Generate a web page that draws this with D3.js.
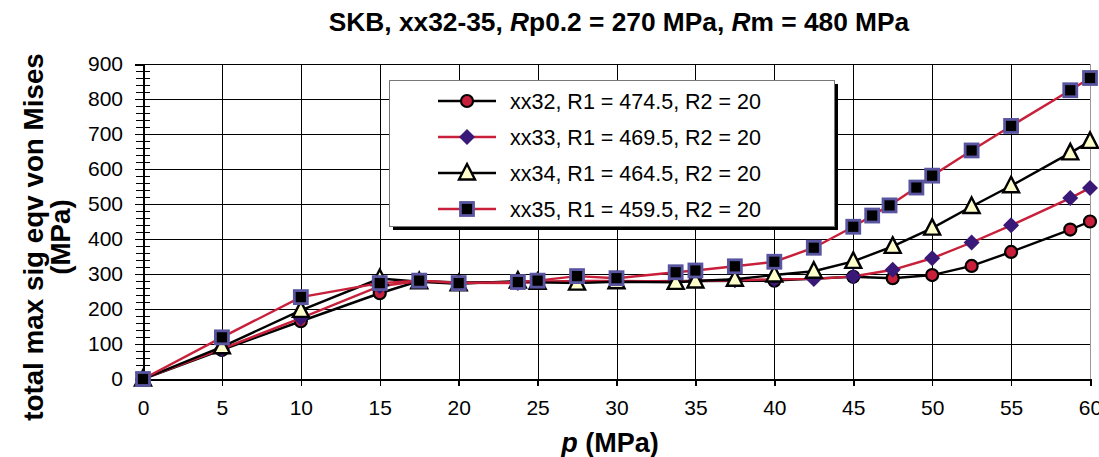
<!DOCTYPE html>
<html><head><meta charset="utf-8">
<script src="https://cdn.jsdelivr.net/npm/d3@7"></script>
<style>
body{margin:0;background:#fff;}
text{font-family:"Liberation Sans",Arial,sans-serif;}
</style></head>
<body><svg id="c" width="1099" height="457"></svg>
<script>
const title = "SKB, xx32-35, ";
const xTicks = [0,5,10,15,20,25,30,35,40,45,50,55,60];
const yTicks = [0,100,200,300,400,500,600,700,800,900];
const seriesNames = ["xx32, R1 = 474.5, R2 = 20","xx33, R1 = 469.5, R2 = 20","xx34, R1 = 464.5, R2 = 20","xx35, R1 = 459.5, R2 = 20"];

const xx32_x = [0,5,10,15,17.5,20,25,30,35,40,45,47.5,50,52.5,55,58.75,60];
const xx32_y = [0,83,165,245,280,276,277,279,280,281,292,288,297,323,363,427,450];
const xx33_x = [0,5,10,15,17.5,20,23.75,25,27.5,30,33.75,35,37.5,40,42.5,45,47.5,50,52.5,55,58.75,60];
const xx33_y = [0,86,174,265,280,275,274,278,280,280,279,280,282,285,286,293,312,345,390,439,517,546];
const xx34_x = [0,5,10,15,17.5,20,23.75,25,27.5,30,33.75,35,37.5,40,42.5,45,47.5,50,52.5,55,58.75,60];
const xx34_y = [0,92,196,287,278,272,280,276,274,278,276,280,285,297,308,336,379,431,493,552,646,679];
const xx35_x = [0,5,10,15,17.5,20,23.75,25,27.5,30,33.75,35,37.5,40,42.5,45,46.2,47.3,49,50,52.5,55,58.75,60];
const xx35_y = [0,119,234,274,281,274,277,281,294,288,305,310,322,335,375,435,467,496,547,581,653,723,825,860];

const RED = "#c8203a", PURPLE = "#3a1878", CREAM = "#ffffcc", SLATE = "#5a55a0";
const styles = [
  {line:"#000", marker:"circle"},
  {line:RED, marker:"diamond"},
  {line:"#000", marker:"triangle"},
  {line:RED, marker:"square"}
];
const series = [[xx32_x,xx32_y],[xx33_x,xx33_y],[xx34_x,xx34_y],[xx35_x,xx35_y]];

const svg = d3.select("#c");
const L=143,R=1090,T=64,B=379;
const x = d3.scaleLinear().domain([0,60]).range([L,R]);
const y = d3.scaleLinear().domain([0,900]).range([B,T]);

// grid
const g = svg.append("g").attr("shape-rendering","crispEdges");
g.selectAll(".hg").data(yTicks.slice(1)).join("line")
 .attr("x1",L).attr("x2",R).attr("y1",d=>Math.round(y(d))+0.5).attr("y2",d=>Math.round(y(d))+0.5)
 .attr("stroke","#000").attr("stroke-width",1.5);
g.selectAll(".vg").data(xTicks.slice(1)).join("line")
 .attr("x1",d=>Math.round(x(d))+0.5).attr("x2",d=>Math.round(x(d))+0.5).attr("y1",T).attr("y2",B)
 .attr("stroke",d=>d===60?"#999":"#000").attr("stroke-width",1.5);

// axes
const yAxis = d3.axisLeft(y).tickValues(yTicks).tickSize(8).tickPadding(12);
const ya = svg.append("g").attr("transform",`translate(${L},0)`).call(yAxis);
ya.attr("shape-rendering","crispEdges");
ya.select(".domain").attr("stroke","#000").attr("stroke-width",2);
ya.selectAll(".tick line").attr("stroke-width",1.5);
ya.selectAll("text").attr("font-size",21).attr("fill","#000").attr("shape-rendering","auto");
// minor ticks
const minors = d3.range(0,901,20).filter(v=>v%100!==0);
svg.append("g").attr("shape-rendering","crispEdges").selectAll("line").data(minors).join("line")
 .attr("x1",L-7).attr("x2",L+7).attr("y1",d=>Math.round(y(d))+0.5).attr("y2",d=>Math.round(y(d))+0.5)
 .attr("stroke","#000").attr("stroke-width",1.5);

const xAxis = d3.axisBottom(x).tickValues(xTicks).tickSize(7).tickPadding(14);
const xa = svg.append("g").attr("transform",`translate(0,${B})`).call(xAxis);
xa.attr("shape-rendering","crispEdges");
xa.select(".domain").attr("stroke","#000").attr("stroke-width",2);
xa.selectAll(".tick line").attr("stroke-width",1.5);
xa.selectAll("text").attr("font-size",21).attr("fill","#000");

// series
function drawMarker(sel, type){
  if(type==="circle"){
    sel.append("circle").attr("r",6).attr("fill",RED).attr("stroke","#000").attr("stroke-width",2.2);
  } else if(type==="diamond"){
    sel.append("path").attr("d","M0,-8L8,0L0,8L-8,0Z").attr("fill",PURPLE);
  } else if(type==="triangle"){
    sel.append("path").attr("d","M0,-9L8,6.5L-8,6.5Z").attr("fill",CREAM).attr("stroke","#000").attr("stroke-width",2.4).attr("stroke-linejoin","miter");
  } else {
    sel.append("rect").attr("x",-6.5).attr("y",-6.5).attr("width",13).attr("height",13).attr("fill","#000").attr("stroke",SLATE).attr("stroke-width",2.8);
  }
}
const line = d3.line().x(d=>x(d[0])).y(d=>y(d[1]));
series.forEach((s,i)=>{
  const pts = s[0].map((v,j)=>[v,s[1][j]]);
  const sg = svg.append("g");
  sg.append("path").datum(pts).attr("d",line).attr("fill","none").attr("stroke",styles[i].line).attr("stroke-width",2.4);
  sg.selectAll("g").data(pts).join("g").attr("transform",d=>`translate(${x(d[0])},${y(d[1])})`)
    .each(function(){ drawMarker(d3.select(this), styles[i].marker); });
});

// legend
const lg = svg.append("g");
lg.append("rect").attr("x",393).attr("y",84).attr("width",445).attr("height",146).attr("fill","#000");
lg.append("rect").attr("x",389.5).attr("y",80.5).attr("width",445).attr("height",146).attr("fill","#fff").attr("stroke","#777").attr("stroke-width",1);
seriesNames.forEach((n,i)=>{
  const yy = 101 + i*36;
  lg.append("line").attr("x1",438).attr("x2",496).attr("y1",yy).attr("y2",yy).attr("stroke",styles[i].line).attr("stroke-width",2.4);
  drawMarker(lg.append("g").attr("transform",`translate(467,${yy})`), styles[i].marker);
  lg.append("text").attr("x",510).attr("y",yy+7.5).attr("font-size",21.5).attr("fill","#000").text(n);
});

// title
const tt = svg.append("text").attr("x",619).attr("y",31).attr("text-anchor","middle").attr("font-size",26.3).attr("font-weight","bold");
tt.append("tspan").text(title);
tt.append("tspan").attr("font-style","italic").text("R");
tt.append("tspan").text("p0.2 = 270 MPa, ");
tt.append("tspan").attr("font-style","italic").text("R");
tt.append("tspan").text("m = 480 MPa");

// axis titles
const xt = svg.append("text").attr("x",610).attr("y",452).attr("text-anchor","middle").attr("font-size",27).attr("font-weight","bold");
xt.append("tspan").attr("font-style","italic").text("p");
xt.append("tspan").text(" (MPa)");

const yt = svg.append("text").attr("transform","translate(43,237) rotate(-90)").attr("text-anchor","middle").attr("font-size",27.8).attr("font-weight","bold");
yt.append("tspan").attr("x",0).attr("y",0).text("total max sig eqv von Mises");
yt.append("tspan").attr("x",0).attr("y",27).text("(MPa)");
</script></body></html>
